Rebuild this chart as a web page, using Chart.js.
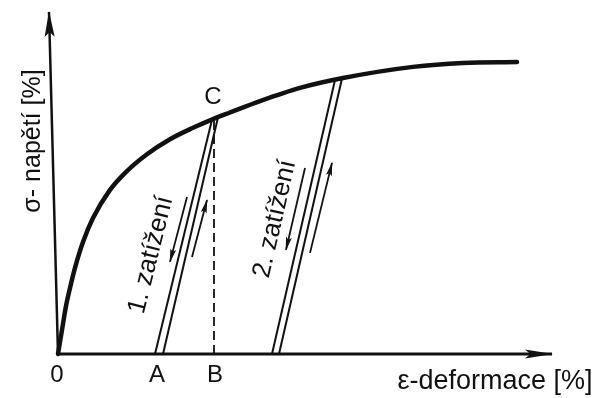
<!DOCTYPE html>
<html>
<head>
<meta charset="utf-8">
<script src="https://cdn.jsdelivr.net/npm/chart.js@4/dist/chart.umd.min.js"></script>
<style>
  html, body { margin: 0; padding: 0; background: #fff; }
  #wrap { width: 596px; height: 398px; }
</style>
</head>
<body>
<div id="wrap"><canvas id="chart"></canvas></div>
<script>
// stress-strain curve (strain in arbitrary units, stress in %)
const curveStrain = [0, 0.08, 0.16, 0.24, 0.34, 0.50, 0.70, 1.04, 1.38, 1.78, 2.24, 2.70, 3.10, 3.44, 4.04, 4.84, 5.70, 7.10, 8.10, 9.18];
const curveStress = [0, 8.0, 16.0, 22.0, 28.7, 37.3, 45.3, 54.7, 61.0, 66.6, 71.6, 75.4, 78.3, 80.5, 84.3, 88.7, 92.0, 95.7, 97.0, 97.3];

// unloading / reloading paths: [start strain, end strain], [start stress, end stress]
const load1Outer = { strain: [1.94, 3.08], stress: [0, 78.1] };
const load1Inner = { strain: [2.10, 3.20], stress: [0, 78.9] };
const load2Outer = { strain: [4.28, 5.54], stress: [0, 91.3] };
const load2Inner = { strain: [4.42, 5.68], stress: [0, 91.8] };
const dropB      = { strain: [3.12, 3.12], stress: [0, 78.5] };

// direction arrows beside the paths
const arrow1Down = { strain: [2.58, 2.24], stress: [52.3, 30.7] };
const arrow1Up   = { strain: [2.68, 2.98], stress: [32.3, 51.3] };
const arrow2Down = { strain: [4.94, 4.56], stress: [62.0, 34.7] };
const arrow2Up   = { strain: [5.04, 5.48], stress: [33.7, 63.7] };

// axes
const xAxisEnd = { strain: [0, 9.88], stress: [0, 0] };
const yAxisEnd = { strain: [0, -0.18], stress: [0, 114] };

// point names on the strain axis and at the yield point
const markNames  = ['0', 'A', 'B', 'C'];
const markStrain = [-0.02, 1.98, 3.14, 3.10];
const markStress = [-7, -7, -7, 85.7];

const INK = '#111';
const FONT = "'Liberation Sans', Arial, sans-serif";

const pts = (s) => s.strain.map((x, i) => ({ x, y: s.stress[i] }));

function seg(s, width, extra) {
  return Object.assign({
    data: pts(s),
    showLine: true,
    borderColor: INK,
    borderWidth: width,
    pointRadius: 0,
    fill: false,
  }, extra || {});
}

const datasets = [
  seg(xAxisEnd, 3, { arrow: { len: 27, half: 4.5 } }),
  seg(yAxisEnd, 2.5, { arrow: { len: 25, half: 5 } }),
  {
    data: curveStrain.map((x, i) => ({ x, y: curveStress[i] })),
    showLine: true,
    borderColor: INK,
    borderWidth: 4.5,
    borderCapStyle: 'round',
    cubicInterpolationMode: 'monotone',
    pointRadius: 0,
  },
  seg(load1Outer, 2),
  seg(load1Inner, 2),
  seg(load2Outer, 2),
  seg(load2Inner, 2),
  seg(dropB, 1.8, { borderDash: [9, 5] }),
  seg(arrow1Down, 1.8, { arrow: { len: 13, half: 3 } }),
  seg(arrow1Up, 1.8, { arrow: { len: 13, half: 3 } }),
  seg(arrow2Down, 1.8, { arrow: { len: 13, half: 3 } }),
  seg(arrow2Up, 1.8, { arrow: { len: 13, half: 3 } }),
];

// filled heads at the end of datasets marked with `arrow`
const arrowHeads = {
  id: 'arrowHeads',
  afterDatasetsDraw(chart) {
    const { ctx } = chart;
    chart.data.datasets.forEach((ds, i) => {
      if (!ds.arrow) return;
      const el = chart.getDatasetMeta(i).data;
      const a = el[el.length - 2], b = el[el.length - 1];
      const ang = Math.atan2(b.y - a.y, b.x - a.x);
      ctx.save();
      ctx.translate(b.x, b.y);
      ctx.rotate(ang);
      ctx.fillStyle = INK;
      ctx.beginPath();
      ctx.moveTo(1, 0);
      ctx.lineTo(-ds.arrow.len, -ds.arrow.half);
      ctx.lineTo(-ds.arrow.len * 0.8, 0);
      ctx.lineTo(-ds.arrow.len, ds.arrow.half);
      ctx.closePath();
      ctx.fill();
      ctx.restore();
    });
  },
};

// texts placed in data coordinates
const texts = [
  { text: '1. zatížení', x: 1.86, y: 33.0, rot: -76, size: 26 },
  { text: '2. zatížení', x: 4.34, y: 45.0, rot: -77, size: 26 },
  { text: 'ε-deformace [%]', x: 8.74, y: -9.3, rot: 0, size: 27 },
  { text: 'σ- napětí [%]', x: -0.50, y: 71, rot: -90, size: 25 },
];

const labels = {
  id: 'labels',
  afterDatasetsDraw(chart) {
    const { ctx, scales: { x, y } } = chart;
    ctx.save();
    ctx.fillStyle = INK;
    ctx.textAlign = 'center';
    ctx.textBaseline = 'middle';
    ctx.font = `24px ${FONT}`;
    markNames.forEach((t, i) => {
      ctx.fillText(t, x.getPixelForValue(markStrain[i]), y.getPixelForValue(markStress[i]));
    });
    texts.forEach((t) => {
      ctx.save();
      ctx.translate(x.getPixelForValue(t.x), y.getPixelForValue(t.y));
      ctx.rotate(t.rot * Math.PI / 180);
      ctx.font = `${t.size}px ${FONT}`;
      ctx.fillText(t.text, 0, 0);
      ctx.restore();
    });
    ctx.restore();
  },
};

new Chart(document.getElementById('chart'), {
  type: 'scatter',
  data: { datasets },
  options: {
    responsive: true,
    maintainAspectRatio: false,
    animation: false,
    layout: { padding: { left: 8, right: 0, top: 8, bottom: 3 } },
    plugins: { legend: { display: false }, tooltip: { enabled: false } },
    scales: {
      x: { type: 'linear', min: -1, max: 10.76, display: false },
      y: { type: 'linear', min: -13.67, max: 115.33, display: false },
    },
  },
  plugins: [arrowHeads, labels],
});
</script>
</body>
</html>
